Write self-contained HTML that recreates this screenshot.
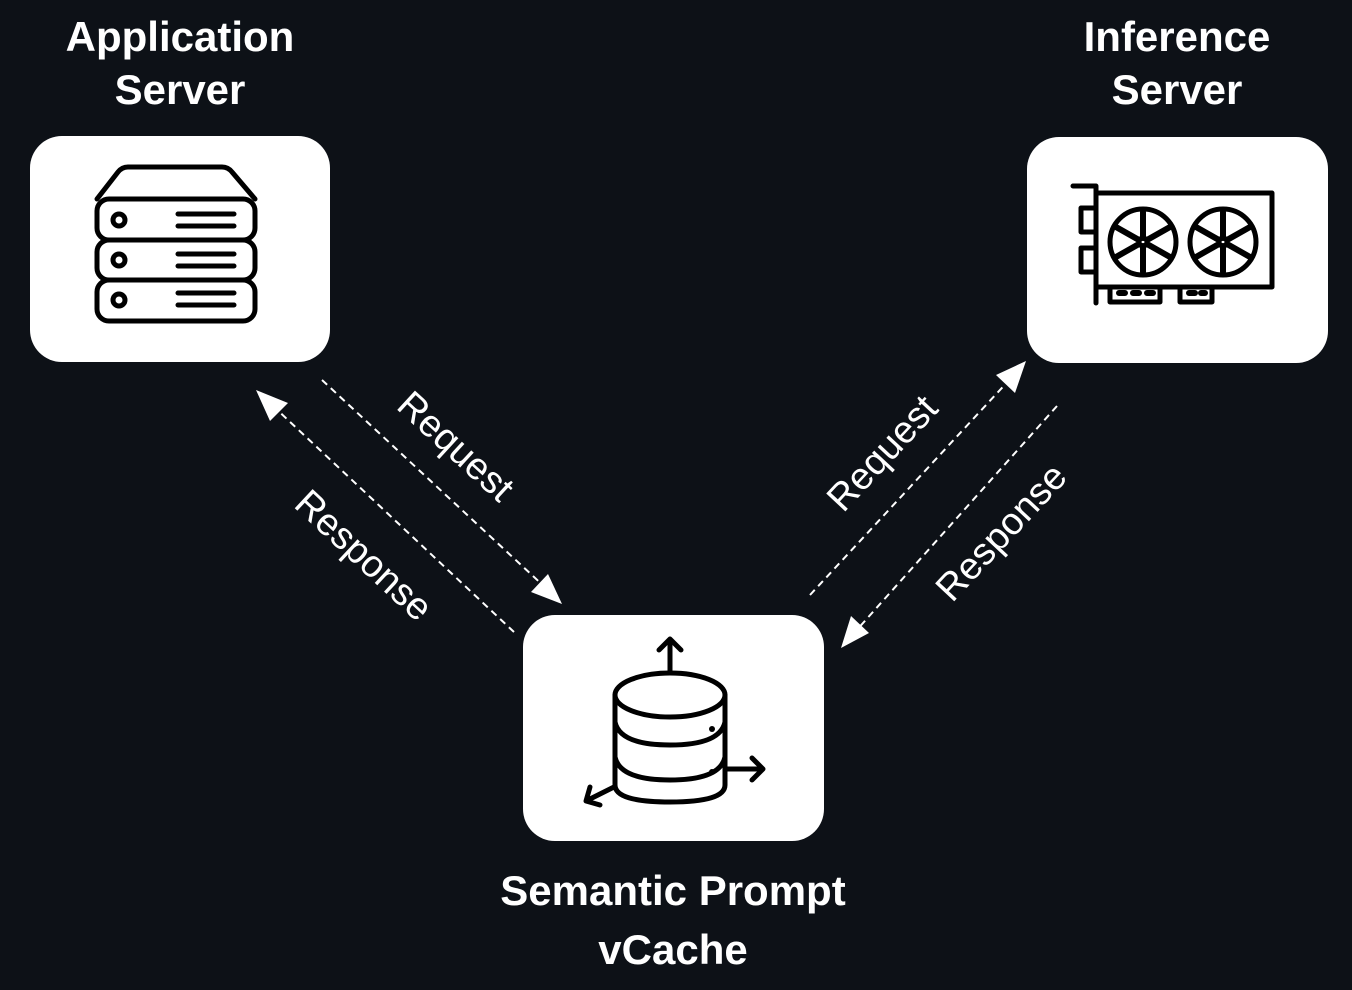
<!DOCTYPE html>
<html><head><style>
html,body{margin:0;padding:0;background:#0d1117;width:1352px;height:990px;overflow:hidden}
svg{display:block}
.t{font-family:"Liberation Sans",sans-serif;font-weight:bold;font-size:42px;fill:#fff;text-anchor:middle}
.l{font-family:"Liberation Sans",sans-serif;font-size:38px;fill:#fff;text-anchor:middle}
.d{stroke:#fff;stroke-width:2;stroke-dasharray:7 5;fill:none}
.i{stroke:#000;stroke-width:5;fill:none;stroke-linecap:round;stroke-linejoin:round}
</style></head><body>
<svg width="1352" height="990" viewBox="0 0 1352 990">
<rect width="1352" height="990" fill="#0d1117"/>
<text class="t" x="180" y="51">Application</text>
<text class="t" x="180" y="104">Server</text>
<text class="t" x="1177" y="51">Inference</text>
<text class="t" x="1177" y="104">Server</text>
<text class="t" x="673" y="905">Semantic Prompt</text>
<text class="t" x="673" y="964">vCache</text>

<rect x="30" y="136" width="300" height="226" rx="32" fill="#fff"/>
<rect x="1027" y="137" width="301" height="226" rx="32" fill="#fff"/>
<rect x="523" y="615" width="301" height="226" rx="32" fill="#fff"/>

<g class="i">
<path d="M97 199 L118 172 Q122 167 128 167 L222 167 Q228 167 232 172 L255 199"/>
<rect x="97" y="199" width="158" height="41" rx="12"/>
<rect x="97" y="240" width="158" height="40" rx="12"/>
<rect x="97" y="280" width="158" height="41" rx="12"/>
<circle cx="119" cy="220" r="6"/><circle cx="119" cy="260" r="6"/><circle cx="119" cy="300" r="6"/>
<path d="M178 214H234M178 226H234M178 254H234M178 266H234M178 293H234M178 305H234"/>
</g>

<g class="i">
<path d="M1073 186H1096V303"/>
<rect x="1096" y="193" width="176" height="94"/>
<rect x="1081" y="208" width="15" height="24"/>
<rect x="1081" y="248" width="15" height="24"/>
<path d="M1110 287V302H1160V287M1180 287V302H1212V287"/>
<path d="M1119 293h6M1133 293h6M1147 293h6M1189 293h6M1201 293h4" stroke-width="6"/>
<circle cx="1143" cy="242" r="33"/><circle cx="1223" cy="242" r="33"/>
<circle cx="1143" cy="242" r="4"/><circle cx="1223" cy="242" r="4"/>
<path d="M1143 238V212M1143 246V272M1139 240L1116 227M1147 244L1170 257M1147 240L1170 227M1139 244L1116 257" stroke-width="6"/>
<path d="M1223 238V212M1223 246V272M1219 240L1196 227M1227 244L1250 257M1227 240L1250 227M1219 244L1196 257" stroke-width="6"/>
</g>

<g class="i">
<ellipse cx="670" cy="695" rx="55" ry="22"/>
<path d="M615 695V785Q615 802 670 802Q725 802 725 785V695"/>
<path d="M615 722Q620 745 670 745Q720 745 725 722"/>
<path d="M615 757Q620 780 670 780Q720 780 725 757"/>
<path d="M670 673V640M659 650L670 639L681 650"/>
<path d="M725 769H762M752 758L763 769L752 780"/>
<path d="M614 787L588 800M590 787L586 801L600 805"/>
</g>
<circle cx="712" cy="729" r="3" fill="#000"/><circle cx="712" cy="772" r="3" fill="#000"/>

<path class="d" d="M322 380L548 590"/>
<polygon points="562,604 531,592 548,574" fill="#fff"/>
<path class="d" d="M514 632L272 405"/>
<polygon points="256,390 288,403 270,421" fill="#fff"/>
<path class="d" d="M810 595L1012 377"/>
<polygon points="1026,361 1015,393 996,375" fill="#fff"/>
<path class="d" d="M1057 406L855 632"/>
<polygon points="841,648 851,616 869,633" fill="#fff"/>

<text class="l" transform="translate(456,446) rotate(42.5)" dy="13">Request</text>
<text class="l" transform="translate(364,555) rotate(43)" dy="13">Response</text>
<text class="l" transform="translate(882,453) rotate(-47)" dy="13">Request</text>
<text class="l" transform="translate(1001,532) rotate(-47)" dy="13">Response</text>
</svg>
</body></html>
